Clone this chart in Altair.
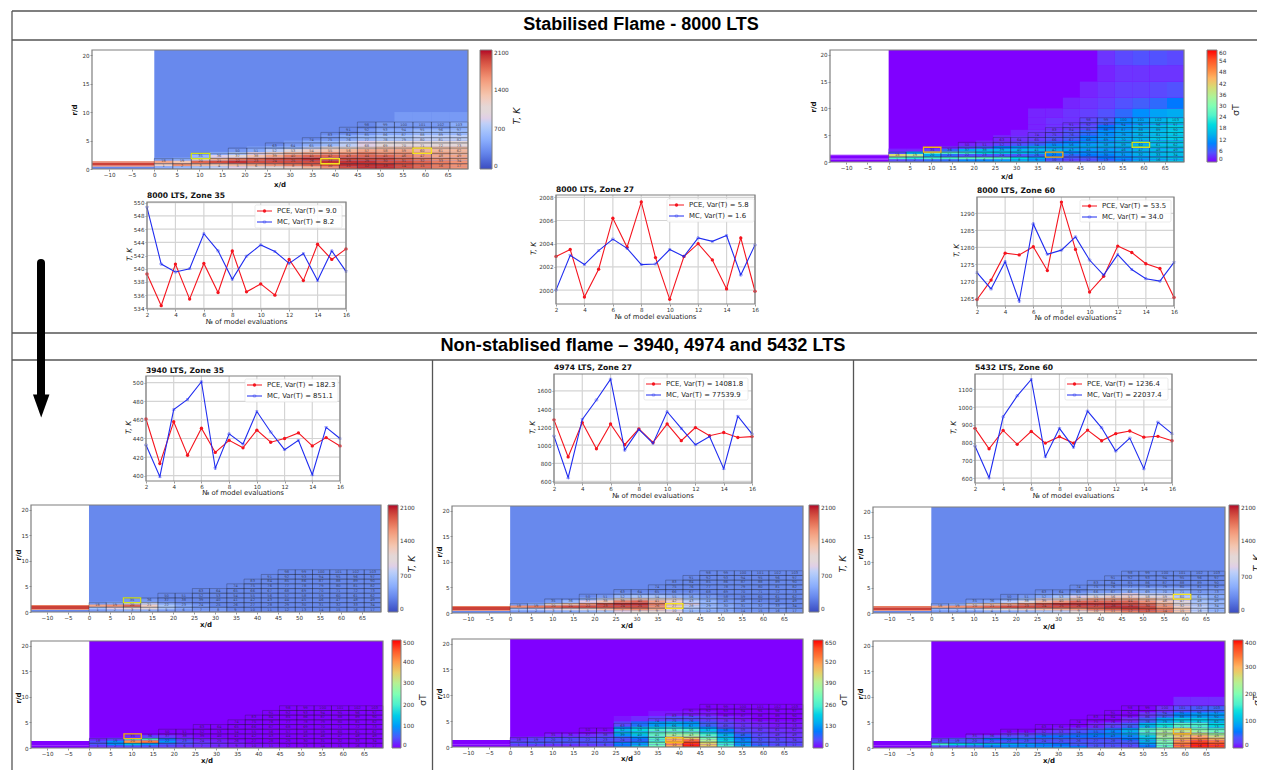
import altair as alt
import pandas as pd

W, H = 1249, 762
RUNS = list(range(2, 17))
XE = [0, 4.1, 8.2, 12.3, 16.4, 20.5, 24.6, 28.7, 32.8, 36.9, 41, 45, 49.1, 53.2, 57.3, 61.4, 65.5, 69.5]
MESH_R = [0, .92, 1.83, 2.75, 3.67, 4.58, 5.5, 6.42, 7.33, 8.25]
MESH_START = [0, 0, 2, 4, 6, 8, 9, 10, 11]
R = [0, .5, 1, 1.5, 2, 2.5, 3, 3.5, 4, 5, 6, 7, 8.25, 10, 12, 15, 18, 20.9]
INLET_R = [0, .45, .6, 1.15, 1.37]
INLET_T = [300, 1700, 1950, 1700]

COOL_C = ["#3b4cc0", "#6282ea", "#8db0fe", "#b9d0f9", "#dddcdc", "#f4c5ad", "#f49a7b", "#dc5d4a", "#b40426"]
RAIN_C = ["#8000ff", "#4062fa", "#00b5eb", "#40ecd4", "#80ffb4", "#c0ec8e", "#ffb462", "#ff6232", "#ff0000"]

# Temperature, hundreds of K, one list per mesh column, from the axis outward
T_8000 = [
    [5, 12, 15, 4], [6, 16, 13, 5], [7, 14, 18, 11, 6], [8, 13, 19, 14, 9, 5],
    [9, 14, 20, 17, 11, 7, 4], [10, 15, 19, 18, 13, 9, 5, 4],
    [11, 16, 19, 19, 15, 12, 8, 5], [12, 17, 19, 19, 17, 14, 10, 6, 4],
    [14, 18, 19, 20, 18, 15, 12, 8, 5], [16, 19, 20, 19, 18, 16, 13, 10, 6, 4],
    [19, 20, 20, 19, 18, 16, 14, 11, 8, 5], [20, 20, 20, 19, 18, 17, 15, 12, 9, 6, 4],
    [20, 20, 19, 19, 18, 16, 15, 13, 10, 7, 5, 4], [19, 19, 19, 18, 17, 16, 15, 13, 10, 7, 5, 4, 4],
    [18, 18, 18, 17, 16, 15, 14, 13, 10, 8, 6, 4, 4], [17, 17, 17, 16, 15, 15, 14, 13, 10, 8, 6, 4, 4],
    [16, 16, 16, 15, 15, 14, 14, 13, 10, 8, 6, 5, 4],
]
T_3940 = [
    [4, 7, 15, 4], [5, 9, 16, 5], [5, 11, 18, 8, 4], [5, 10, 12, 8, 4], [4, 7, 7, 5],
    [4, 5, 5, 4], [4, 4, 4], [4, 4], [], [], [], [], [], [], [], [], [],
]
T_4974 = [
    [4, 7, 16, 4], [4, 8, 17, 5], [5, 9, 18, 10, 4], [5, 10, 19, 13, 6],
    [6, 11, 19, 16, 9, 5], [7, 13, 19, 19, 13, 8, 4], [9, 15, 19, 20, 17, 11, 6, 4],
    [11, 16, 19, 20, 18, 12, 7, 4], [11, 14, 16, 17, 15, 11, 7, 4], [9, 11, 12, 13, 12, 10, 6, 4],
    [6, 7, 8, 9, 8, 7, 5, 4], [5, 6, 6, 6, 6, 5, 4], [5, 5, 5, 5, 4, 4],
    [4, 4, 4, 4, 4], [4, 4, 4, 4], [4, 4, 4], [4, 4],
]
T_5432 = [
    [4, 6, 15, 4], [4, 7, 16, 5], [4, 8, 17, 10, 4], [5, 10, 18, 13, 5],
    [5, 11, 19, 15, 8, 4], [6, 12, 19, 17, 11, 6, 4], [7, 13, 19, 19, 14, 9, 5, 4],
    [8, 14, 19, 20, 16, 11, 7, 4], [11, 15, 19, 20, 18, 13, 9, 5], [13, 17, 19, 20, 18, 15, 11, 7, 4],
    [15, 18, 20, 20, 18, 15, 12, 8, 4], [17, 19, 20, 19, 18, 15, 12, 9, 5],
    [18, 19, 19, 18, 16, 14, 11, 8, 5], [17, 17, 16, 15, 13, 12, 10, 8, 5],
    [13, 13, 12, 11, 10, 9, 8, 7, 5], [8, 8, 8, 8, 7, 7, 6, 5, 4], [6, 6, 6, 6, 6, 5, 5, 5, 4],
]
# Temperature standard deviation, K
S_8000 = [
    [4, 25, 40, 5, 1], [6, 22, 36, 14, 1], [8, 24, 14, 26, 3], [8, 24, 8, 24, 8, 1],
    [10, 26, 6, 22, 14, 4, 1], [10, 26, 6, 20, 16, 7, 2, 1], [12, 24, 6, 18, 16, 10, 4, 2, 1],
    [14, 20, 6, 16, 16, 12, 6, 3, 2, 1], [12, 14, 8, 14, 16, 14, 8, 5, 3, 2, 1, 1, 1],
    [6, 8, 9, 12, 15, 14, 11, 8, 5, 3, 2, 2, 1], [4, 6, 8, 11, 14, 14, 12, 10, 7, 5, 3, 2, 2, 1],
    [6, 7, 9, 11, 13, 14, 13, 12, 10, 8, 5, 4, 3, 2, 1],
    [8, 9, 10, 12, 13, 14, 14, 13, 12, 11, 9, 7, 5, 3, 2, 1, 2],
    [10, 11, 12, 13, 14, 14, 15, 15, 14, 13, 12, 11, 8, 5, 3, 2, 4],
    [13, 13, 14, 15, 15, 16, 16, 16, 15, 15, 14, 13, 11, 7, 3, 2, 5],
    [15, 15, 15, 16, 16, 17, 17, 17, 17, 16, 16, 15, 13, 8, 4, 2, 5],
    [16, 16, 16, 17, 17, 17, 18, 18, 18, 18, 18, 17, 14, 9, 5, 2, 4],
]
S_3940 = [
    [20, 50, 50, 10], [30, 90, 100, 30], [40, 130, 400, 180, 15], [40, 100, 420, 200, 30],
    [30, 60, 100, 70, 20], [20, 40, 50, 30, 5], [15, 25, 20, 10], [10, 15, 10, 5], [5, 8, 5],
    [3, 3], [3, 3], [], [], [], [], [], [],
]
S_4974 = [
    [30, 60, 40, 10], [30, 80, 60, 30], [20, 60, 70, 50, 10], [20, 60, 70, 50, 15],
    [30, 60, 60, 50, 20], [40, 70, 60, 60, 40, 10], [100, 110, 70, 80, 130, 170, 170, 120, 40, 5],
    [160, 130, 90, 110, 180, 220, 220, 180, 90, 15], [300, 300, 260, 270, 290, 280, 260, 220, 130, 30, 5],
    [500, 520, 500, 450, 380, 320, 280, 230, 150, 50, 5], [640, 620, 560, 450, 370, 310, 260, 200, 130, 50, 5],
    [460, 440, 380, 320, 280, 230, 180, 130, 80, 30, 5], [260, 240, 220, 190, 170, 130, 100, 70, 40, 15],
    [140, 130, 120, 100, 90, 70, 50, 35, 20, 5], [90, 80, 70, 60, 50, 40, 30, 20, 10],
    [60, 60, 50, 40, 30, 25, 20, 10, 5], [50, 50, 40, 30, 25, 20, 15, 10, 5],
]
S_5432 = [
    [30, 150, 40, 20], [30, 130, 50, 40], [50, 110, 40, 50, 15], [60, 100, 40, 60, 25],
    [70, 90, 40, 60, 40, 10], [70, 80, 40, 55, 50, 20], [70, 70, 40, 50, 60, 35, 10],
    [70, 60, 40, 50, 60, 45, 20, 5], [60, 50, 40, 45, 60, 55, 40, 15], [50, 40, 40, 45, 60, 70, 55, 30, 5],
    [40, 40, 40, 50, 65, 80, 75, 55, 20], [30, 40, 50, 60, 75, 95, 100, 80, 45, 10],
    [60, 80, 100, 110, 130, 150, 170, 150, 100, 50, 15], [180, 190, 200, 210, 230, 240, 230, 200, 140, 90, 40, 10],
    [340, 340, 320, 300, 280, 280, 250, 220, 170, 120, 70, 30, 10],
    [390, 390, 370, 330, 300, 260, 220, 190, 160, 120, 80, 40, 10],
    [380, 370, 340, 300, 260, 220, 190, 160, 130, 100, 80, 50, 10],
]

PCE_8000_35 = [539.2, 534.4, 540.7, 535.4, 540.8, 536.4, 542.7, 536.5, 537.7, 536.0, 541.4, 538.2, 543.7, 541.4, 543.0]
MC_8000_35 = [549.3, 540.7, 539.5, 540.0, 545.3, 542.7, 538.4, 541.9, 543.6, 542.6, 540.8, 542.3, 538.2, 542.7, 539.6]
PCE_8000_27 = [2002.9, 2003.5, 1999.4, 2001.8, 2006.2, 2003.7, 2007.6, 2002.8, 1999.2, 2002.9, 2004.0, 2002.6, 2000.1, 2004.5, 1999.9]
MC_8000_27 = [2000.0, 2003.0, 2002.2, 2003.4, 2004.4, 2003.6, 2002.2, 2002.25, 2003.5, 2002.9, 2004.5, 2004.2, 2004.7, 2001.3, 2003.9]
PCE_8000_60 = [1264.7, 1270.4, 1278.3, 1277.8, 1280.2, 1273.2, 1293.3, 1279.4, 1266.9, 1271.5, 1280.4, 1278.5, 1275.2, 1273.8, 1265.3]
MC_8000_60 = [1272.6, 1267.8, 1275.8, 1264.2, 1286.9, 1278.0, 1279.2, 1283.1, 1276.3, 1271.9, 1277.9, 1273.5, 1270.8, 1270.1, 1275.6]
PCE_3940 = [461, 413, 458, 422, 451, 425, 438, 430, 449, 436, 440, 446, 432, 441, 432]
MC_3940 = [433, 399, 471, 482, 501, 408, 445, 434, 469, 447, 428, 438, 401, 452, 440]
PCE_4974 = [1280, 870, 1250, 960, 1235, 1005, 1180, 1030, 1235, 1050, 1195, 1105, 1140, 1085, 1095]
MC_4974 = [1100, 640, 1285, 1500, 1730, 945, 1175, 1020, 1370, 1185, 1005, 1095, 740, 1320, 1125]
PCE_5432 = [880, 765, 868, 790, 863, 797, 833, 797, 870, 810, 850, 865, 830, 835, 810]
MC_5432 = [780, 602, 945, 1063, 1155, 720, 880, 773, 977, 883, 752, 825, 652, 915, 850]

FONT = "DejaVu Sans"
EMPTY = alt.Data(values=[{}])
GRIDC = "#d4d4d4"
FRAMEC = "#7f7f7f"


def text(s, x, y, size=7, angle=0, weight="normal", style="normal", align="center", font=FONT, color="#222"):
    return alt.Chart(EMPTY).mark_text(text=s, fontSize=size, angle=angle, fontWeight=weight, fontStyle=style,
                                      align=align, baseline="middle", font=font, color=color).encode(
        x=alt.value(x - 8), y=alt.value(y - 8))


def seg(x, y, x2=None, y2=None, color="#555", w=1.3, **kw):
    enc = {"x": alt.value(x - 8), "y": alt.value(y - 8)}
    if x2 is not None:
        enc["x2"] = alt.value(x2 - 8)
    if y2 is not None:
        enc["y2"] = alt.value(y2 - 8)
    return alt.Chart(EMPTY).mark_rule(color=color, strokeWidth=w, **kw).encode(**enc)


def axes(xvals, yvals, box, size):
    l, r, t, b = box
    xa = alt.Axis(orient="bottom", offset=b - 8 - H, values=xvals, format="d", grid=False, domain=False, title=None,
                  labelFontSize=size, labelFont=FONT, labelColor="#333", tickSize=2, tickColor="#555", tickWidth=.6,
                  labelPadding=1, labelOverlap=False, labelFlush=False)
    ya = alt.Axis(orient="left", offset=-(l - 8), values=yvals, format="d", grid=False, domain=False, title=None,
                  labelFontSize=size, labelFont=FONT, labelColor="#333", tickSize=2, tickColor="#555", tickWidth=.6,
                  labelPadding=1, labelOverlap=False, labelFlush=False)
    return xa, ya


def zones():
    rows, n = [], 1
    for j, start in enumerate(MESH_START):
        for i in range(start, 17):
            rows.append(dict(x=XE[i], x2=XE[i + 1], r=MESH_R[j], r2=MESH_R[j + 1],
                             cx=(XE[i] + XE[i + 1]) / 2, cr=(MESH_R[j] + MESH_R[j + 1]) / 2, zone=str(n)))
            n += 1
    return pd.DataFrame(rows)


ZONES = zones()


def rect_enc(xs, ys):
    return dict(x=alt.X("x:Q", scale=xs), x2="x2:Q", y=alt.Y("r:Q", scale=ys), y2="r2:Q")


def heat_panel(cols, unit, base, inlet, maxv, ticks, colors, box, cbox, hls, xt, rt, ct, clabel):
    l, r, t, b = box
    xs = alt.Scale(domain=[-13.8, 69.5], range=[l - 8, r - 8], nice=False, zero=False)
    ys = alt.Scale(domain=[0, 20.9], range=[b - 8, t - 8], nice=False, zero=False)
    cells = [dict(x=0, x2=69.5, r=0, r2=20.9, v=base)]
    for i, col in enumerate(cols):
        for j, v in enumerate(col):
            cells.append(dict(x=XE[i], x2=XE[i + 1], r=R[j], r2=R[j + 1], v=v * unit))
    for j, v in enumerate(inlet):
        cells.append(dict(x=-13.8, x2=0, r=INLET_R[j], r2=INLET_R[j + 1], v=v))
    cl, cr, ctop, cb = cbox
    stops = [maxv * k / 8 for k in range(9)]
    xa, ya = axes(list(range(-10, 70, 5)), [0, 5, 10, 15, 20], box, 5.6)
    heatmap = alt.Chart(pd.DataFrame(cells)).mark_rect().encode(
        x=alt.X("x:Q", scale=xs, axis=xa), x2="x2:Q",
        y=alt.Y("r:Q", scale=ys, axis=ya), y2="r2:Q",
        color=alt.Color("v:Q", scale=alt.Scale(domain=stops, range=colors, clamp=True), legend=alt.Legend(
            type="gradient", orient="none", legendX=cl - 8, legendY=ctop - 8, gradientLength=cb - ctop,
            gradientThickness=cr - cl, values=ticks, title=None, labelFontSize=5.8, labelFont=FONT,
            labelColor="#333", gradientStrokeColor=FRAMEC, gradientStrokeWidth=1, labelOffset=2,
            labelOverlap=False, format="d", direction="vertical")))
    mesh = alt.Chart(ZONES).mark_rect(fillOpacity=0, stroke="#1a1a1a", strokeWidth=.5, strokeOpacity=.55).encode(
        **rect_enc(xs, ys))
    nums = alt.Chart(ZONES).mark_text(fontSize=3.6, font=FONT, color="#222", opacity=.7).encode(
        x=alt.X("cx:Q", scale=xs), y=alt.Y("cr:Q", scale=ys), text="zone:N")
    his = [alt.Chart(pd.DataFrame([z])).mark_rect(fillOpacity=0, stroke=c, strokeWidth=1.3).encode(**rect_enc(xs, ys))
           for z, c in hls]
    frame = alt.Chart(pd.DataFrame([dict(x=-13.8, x2=69.5, r=0, r2=20.9)])).mark_rect(
        fillOpacity=0, stroke=FRAMEC, strokeWidth=1.2).encode(**rect_enc(xs, ys))
    lbl = [
        text("x/d", xt[0], xt[1], 7, weight="bold", color="#111"),
        text("r/d", rt[0], rt[1], 7, angle=270, weight="bold", color="#111"),
        text(clabel, ct[0], ct[1], 9.5, angle=270, style="italic" if clabel.startswith("T") else "normal"),
    ]
    return alt.layer(heatmap, mesh, nums, *his, frame, *lbl)


def line_panel(pce, mc, ydom, yticks, box, title, leg_pce, leg_mc, legbox, ty, axlabel_y, ylab_x):
    l, r, t, b = box
    xs = alt.Scale(domain=[2, 16], range=[l - 8, r - 8], nice=False, zero=False)
    ys = alt.Scale(domain=ydom, range=[b - 8, t - 8], nice=False, zero=False)
    xticks = list(range(2, 17, 2))
    xa, ya = axes(xticks, yticks, box, 5.6)
    gx = pd.DataFrame({"x": xticks, "a": ydom[0], "b": ydom[1]})
    gy = pd.DataFrame({"y": yticks, "a": 2, "b": 16})
    gv = alt.Chart(gx).mark_rule(color=GRIDC, strokeWidth=1.2).encode(
        x=alt.X("x:Q", scale=xs, axis=xa), y=alt.Y("a:Q", scale=ys, axis=ya), y2="b:Q")
    gh = alt.Chart(gy).mark_rule(color=GRIDC, strokeWidth=1.2).encode(
        y=alt.Y("y:Q", scale=ys), x=alt.X("a:Q", scale=xs), x2="b:Q")
    d1 = pd.DataFrame({"x": RUNS, "y": pce})
    d2 = pd.DataFrame({"x": RUNS, "y": mc})
    enc = dict(x=alt.X("x:Q", scale=xs), y=alt.Y("y:Q", scale=ys))
    red, blue = "#f5141e", "#1f2cf0"
    parts = [
        gv, gh,
        alt.Chart(d1).mark_line(color=red, strokeWidth=1.1).encode(**enc),
        alt.Chart(d1).mark_circle(color=red, size=11, opacity=1).encode(**enc),
        alt.Chart(d2).mark_line(color=blue, strokeWidth=1.1).encode(**enc),
        alt.Chart(d2).mark_point(shape="cross", angle=45, color=blue, size=7, strokeWidth=.6, filled=False).encode(**enc),
        alt.Chart(pd.DataFrame([dict(x=2, x2=16, a=ydom[0], b=ydom[1])])).mark_rect(
            fillOpacity=0, stroke=FRAMEC, strokeWidth=1.2).encode(
            x=alt.X("x:Q", scale=xs), x2="x2:Q", y=alt.Y("a:Q", scale=ys), y2="b:Q"),
    ]
    bl, bt, br, bb = legbox
    row1, row2 = bt + 6, bt + 17
    lg = [
        alt.Chart(EMPTY).mark_rect(fill="white", fillOpacity=.85, stroke="#dddddd", strokeWidth=.6, cornerRadius=1.5).encode(
            x=alt.value(bl - 8), x2=alt.value(br - 8), y=alt.value(bt - 8), y2=alt.value(bb - 8)),
        seg(bl + 2, row1, bl + 17, row1, red, 1),
        alt.Chart(EMPTY).mark_circle(color=red, size=11, opacity=1).encode(x=alt.value(bl + 1.5), y=alt.value(row1 - 8)),
        seg(bl + 2, row2, bl + 17, row2, blue, 1),
        alt.Chart(EMPTY).mark_point(shape="cross", angle=45, color=blue, size=7, strokeWidth=.6).encode(
            x=alt.value(bl + 1.5), y=alt.value(row2 - 8)),
        text(leg_pce, bl + 22, row1, 6.9, align="left"),
        text(leg_mc, bl + 22, row2, 6.9, align="left"),
    ]
    labels = [
        text(title, l, ty, 7.6, weight="bold", align="left", color="#111"),
        text("№ of model evaluations", (l + r) / 2, axlabel_y, 6.9),
        text("T, K", ylab_x, (t + b) / 2 - 1, 7.4, angle=270, style="italic"),
    ]
    return alt.layer(*parts, *lg, *labels)


def cell(i, j):
    return dict(x=XE[i], x2=XE[i + 1], r=MESH_R[j], r2=MESH_R[j + 1])


Z35, Z27, Z60 = cell(2, 2), cell(9, 1), cell(14, 3)
YEL, ORG, LIME = "#f5e31c", "#f2b21a", "#cfe01a"
T_TICKS = [0, 700, 1400, 2100]
BLUE_BASE = 300
panels = [
    heat_panel(T_8000, 100, BLUE_BASE, INLET_T, 2100, T_TICKS, COOL_C, (92, 468, 50, 169), (480, 492, 50, 169),
               [(Z35, LIME), (Z27, YEL), (Z60, YEL)], (280, 185), (75, 110), (517, 116), "T, K"),
    heat_panel(S_8000, 1, 0, [0, 0, 0, 0], 60, list(range(0, 61, 6)), RAIN_C, (830, 1184, 50, 162), (1207, 1217, 50, 162),
               [(Z35, ORG), (Z27, ORG), (Z60, LIME)], (1007, 177), (814, 107), (1236, 110), "σT"),
    heat_panel(T_3940, 100, BLUE_BASE, INLET_T, 2100, T_TICKS, COOL_C, (31, 381, 505, 612), (388, 398, 505, 612),
               [(Z35, LIME)], (206, 625), (19, 555), (412, 564), "T, K"),
    heat_panel(S_3940, 1, 0, [0, 0, 0, 0], 500, [0, 100, 200, 300, 400, 500], RAIN_C, (31, 383, 641, 748), (392, 401, 640, 748),
               [(Z35, ORG)], (207, 761), (19, 698), (423, 700), "σT"),
    heat_panel(T_4974, 100, BLUE_BASE, INLET_T, 2100, T_TICKS, COOL_C, (452, 803, 506, 613), (809, 819, 505, 612),
               [(Z27, YEL)], (627, 626), (440, 552), (843, 564), "T, K"),
    heat_panel(S_4974, 1, 0, [0, 0, 0, 0], 650, [0, 130, 260, 390, 520, 650], RAIN_C, (452, 803, 639, 747), (813, 823, 640, 748),
               [(Z27, ORG)], (627, 759), (440, 694), (844, 700), "σT"),
    heat_panel(T_5432, 100, BLUE_BASE, INLET_T, 2100, T_TICKS, COOL_C, (873, 1225, 507, 613), (1229, 1239, 505, 613),
               [(Z60, YEL)], (1049, 627), (861, 554), (1257, 563), "T, K"),
    heat_panel(S_5432, 1, 0, [0, 0, 0, 0], 400, [0, 100, 200, 300, 400], RAIN_C, (873, 1225, 641, 748), (1233, 1243, 640, 748),
               [(Z60, ORG)], (1049, 761), (861, 694), (1257, 700), "σT"),
    line_panel(PCE_8000_35, MC_8000_35, [533.9, 550.1], list(range(534, 551, 2)), (147, 346, 202, 309),
               "8000 LTS, Zone 35", "PCE, Var(T) = 9.0", "MC, Var(T)  = 8.2", (255, 205, 342, 228), 196, 322, 130),
    line_panel(PCE_8000_27, MC_8000_27, [1998.8, 2008.2], [2000, 2002, 2004, 2006, 2008], (556, 755, 195, 304),
               "8000 LTS, Zone 27", "PCE, Var(T) = 5.8", "MC, Var(T)  = 1.6", (667, 199, 754, 222), 190, 317, 534),
    line_panel(PCE_8000_60, MC_8000_60, [1262.8, 1294.8], [1265, 1270, 1275, 1280, 1285, 1290], (977, 1174, 197, 306),
               "8000 LTS, Zone 60", "PCE, Var(T) = 53.5", "MC, Var(T)  = 34.0", (1080, 200, 1171, 222), 191, 318, 957),
    line_panel(PCE_3940, MC_3940, [394.3, 507.2], [400, 420, 440, 460, 480, 500], (146, 340, 376, 481),
               "3940 LTS, Zone 35", "PCE, Var(T) = 182.3", "MC, Var(T)  = 851.1", (245, 379, 338, 402), 371, 493, 129),
    line_panel(PCE_4974, MC_4974, [582, 1787], [600, 800, 1000, 1200, 1400, 1600], (554, 752, 374, 483),
               "4974 LTS, Zone 27", "PCE, Var(T) = 14081.8", "MC, Var(T)  = 77539.9", (644, 378, 748, 400), 368, 496, 533),
    line_panel(PCE_5432, MC_5432, [572, 1186], [600, 700, 800, 900, 1000, 1100], (975, 1172, 374, 483),
               "5432 LTS, Zone 60", "PCE, Var(T) = 1236.4", "MC, Var(T)  = 22037.4", (1065, 378, 1168, 400), 368, 496, 954),
]

frame_lines = [
    seg(12, 11, 1265, 11), seg(12, 40, 1265, 40), seg(12, 333, 1265, 333), seg(12, 360, 1265, 360),
    seg(12, 11, None, 770), seg(432.5, 360, None, 770), seg(853.5, 360, None, 770),
]
head = [
    text("Stabilised Flame - 8000 LTS", 641, 25, 18, weight="bold", font="Liberation Sans", color="#000"),
    text("Non-stablised flame – 3940, 4974 and 5432 LTS", 643, 346, 18.2, weight="bold", font="Liberation Sans", color="#000"),
]
arrow = [
    seg(41, 263, None, 396, "#000", 8, strokeCap="round"),
    alt.Chart(EMPTY).mark_point(shape="M-1,-1.4L1,-1.4L0,1.4Z", size=272, filled=True, color="#000", opacity=1).encode(
        x=alt.value(41.2 - 8), y=alt.value(406 - 8)),
]

chart = alt.layer(*frame_lines, *head, *panels, *arrow).resolve_scale(
    x="independent", y="independent", color="independent"
).properties(width=W, height=H, padding=0, autosize=alt.AutoSizeParams(type="none")).configure_view(stroke=None)

chart.save("out.html", embed_options={"renderer": "svg", "actions": False})
